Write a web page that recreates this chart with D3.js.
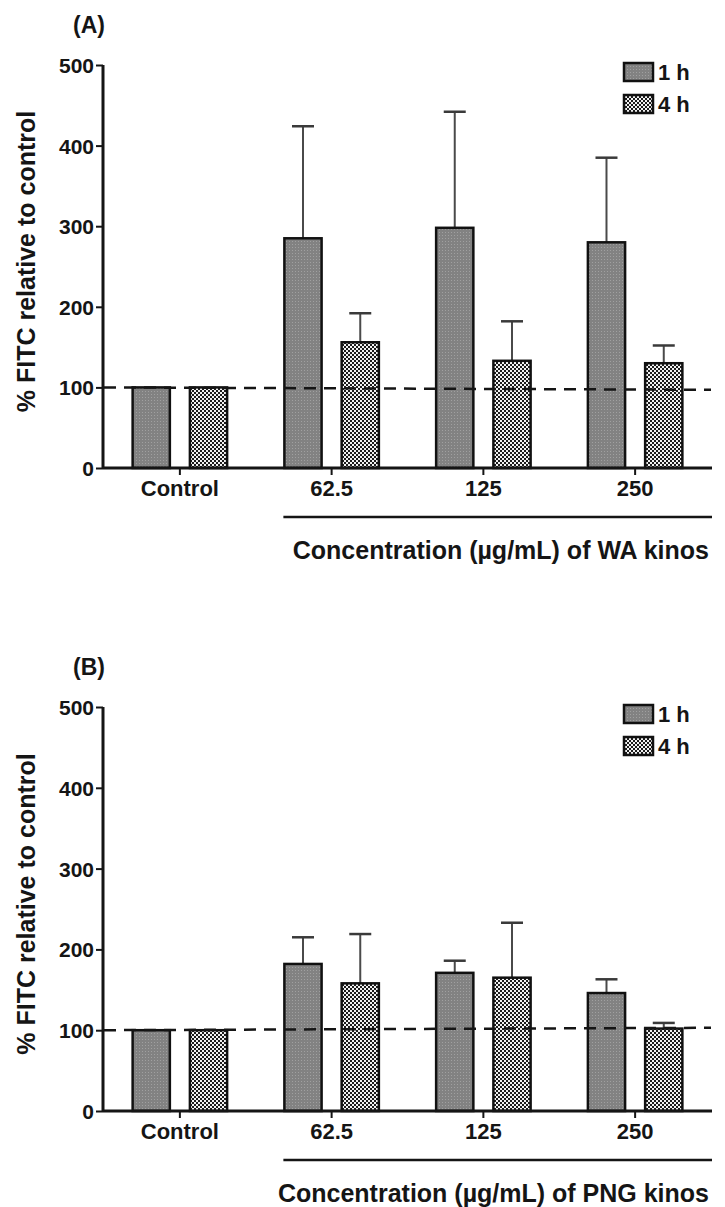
<!DOCTYPE html>
<html>
<head>
<meta charset="utf-8">
<script src="https://cdn.jsdelivr.net/npm/d3@7"></script>
<style>
  html, body { margin: 0; padding: 0; background: #fff; }
  svg text { font-family: "Liberation Sans", Arial, Helvetica, sans-serif; font-weight: bold; fill: #151515; }
</style>
</head>
<body>
<svg id="chart" width="725" height="1207"></svg>
<script>
// Exposure groups and time points
const categories = ["Control", "62.5", "125", "250"];
const series = ["1 h", "4 h"];
const yTicks = [0, 100, 200, 300, 400, 500];

// Panel A: WA kinos (mean and upper error, % FITC relative to control)
const waMean1h = [100, 285, 298, 280];
const waErr1h  = [0, 139, 144, 105];
const waMean4h = [100, 156, 133, 130];
const waErr4h  = [0, 36, 49, 22];
const waRefLine = [100, 97];

// Panel B: PNG kinos
const pngMean1h = [100, 182, 171, 146];
const pngErr1h  = [0, 33, 15, 17];
const pngMean4h = [100, 158, 165, 102];
const pngErr4h  = [0, 61, 68, 7];
const pngRefLine = [100, 103];

const svg = d3.select("#chart");

// Fill patterns: fine-grained grey for 1 h, black/white checker for 4 h
const defs = svg.append("defs");
const pGrey = defs.append("pattern").attr("id", "fill1h")
  .attr("patternUnits", "userSpaceOnUse").attr("width", 3).attr("height", 3);
pGrey.append("rect").attr("width", 3).attr("height", 3).attr("fill", "#828282");
pGrey.append("rect").attr("x", 1).attr("y", 1).attr("width", 1).attr("height", 1).attr("fill", "#a0a0a0");

const pCheck = defs.append("pattern").attr("id", "fill4h")
  .attr("patternUnits", "userSpaceOnUse").attr("width", 4).attr("height", 4);
pCheck.append("rect").attr("width", 4).attr("height", 4).attr("fill", "#1c1c1c");
pCheck.append("rect").attr("x", 0).attr("y", 0).attr("width", 2).attr("height", 2).attr("fill", "#f2f2f2");
pCheck.append("rect").attr("x", 2).attr("y", 2).attr("width", 2).attr("height", 2).attr("fill", "#f2f2f2");

const fills = { "1 h": "url(#fill1h)", "4 h": "url(#fill4h)" };

function drawPanel(opts) {
  const { top, bottom, label, agent, mean1h, err1h, mean4h, err4h, refLine } = opts;
  const left = 104, right = 711;

  const g = svg.append("g");

  const y = d3.scaleLinear().domain([0, 500]).range([bottom, top]);
  const x0 = d3.scaleBand().domain(categories).range([left, right]).paddingInner(0).paddingOuter(0);
  const x1 = d3.scaleBand().domain(series).range([0, x0.bandwidth()])
    .paddingInner(0.35).paddingOuter(0.5);

  const rows = [];
  categories.forEach((c, i) => {
    rows.push({ cat: c, s: "1 h", v: mean1h[i], e: err1h[i] });
    rows.push({ cat: c, s: "4 h", v: mean4h[i], e: err4h[i] });
  });

  // Error bars (upper only)
  const eb = g.append("g").selectAll("g").data(rows.filter(d => d.e > 0)).join("g");
  eb.append("line")
    .attr("x1", d => x0(d.cat) + x1(d.s) + x1.bandwidth() / 2)
    .attr("x2", d => x0(d.cat) + x1(d.s) + x1.bandwidth() / 2)
    .attr("y1", d => y(d.v)).attr("y2", d => y(d.v + d.e))
    .attr("stroke", "#4a4a4a").attr("stroke-width", 2);
  eb.append("line")
    .attr("x1", d => x0(d.cat) + x1(d.s) + x1.bandwidth() / 2 - 11)
    .attr("x2", d => x0(d.cat) + x1(d.s) + x1.bandwidth() / 2 + 11)
    .attr("y1", d => y(d.v + d.e)).attr("y2", d => y(d.v + d.e))
    .attr("stroke", "#3a3a3a").attr("stroke-width", 2.5);

  // Bars
  g.append("g").selectAll("rect").data(rows).join("rect")
    .attr("x", d => x0(d.cat) + x1(d.s))
    .attr("width", x1.bandwidth())
    .attr("y", d => y(d.v))
    .attr("height", d => y(0) - y(d.v))
    .attr("fill", d => fills[d.s])
    .attr("stroke", "#111").attr("stroke-width", 2.5);

  // Dashed control reference line
  g.append("line")
    .attr("x1", left).attr("x2", right)
    .attr("y1", y(refLine[0])).attr("y2", y(refLine[1]))
    .attr("stroke", "#151515").attr("stroke-width", 2.5)
    .attr("stroke-dasharray", "12,8");

  // Y axis
  const yAxis = g.append("g").attr("transform", `translate(${left - 1},0)`)
    .call(d3.axisLeft(y).tickValues(yTicks).tickSize(7).tickPadding(2).tickFormat(d3.format("d")));
  yAxis.select(".domain").attr("stroke", "#151515").attr("stroke-width", 3)
    .attr("d", `M0,${bottom}V${top}`);
  yAxis.selectAll(".tick line").attr("stroke", "#151515").attr("stroke-width", 2);
  yAxis.selectAll(".tick text").style("font-size", "21px").attr("dy", "0.36em");

  // X axis
  const xAxis = g.append("g").attr("transform", `translate(0,${bottom})`)
    .call(d3.axisBottom(x0).tickSize(7).tickPadding(6));
  xAxis.select(".domain").attr("stroke", "#151515").attr("stroke-width", 3)
    .attr("d", `M${left - 1},0H${right + 1}`);
  xAxis.selectAll(".tick line").attr("stroke", "#151515").attr("stroke-width", 2);
  xAxis.selectAll(".tick text").style("font-size", "22px").attr("dy", "0.7em");

  // Bracket under the treated groups
  const bx0 = x0(categories[1]) + x1(series[0]) - 1;
  g.append("line")
    .attr("x1", bx0).attr("x2", right + 1)
    .attr("y1", bottom + 49).attr("y2", bottom + 49)
    .attr("stroke", "#151515").attr("stroke-width", 2.5);

  g.append("text")
    .attr("x", right - 2).attr("y", bottom + 91)
    .attr("text-anchor", "end")
    .style("font-size", "25px")
    .text(`Concentration (\u00b5g/mL) of ${agent} kinos`);

  // Y axis title
  g.append("text")
    .attr("transform", `translate(35,${(top + bottom) / 2 - 5}) rotate(-90)`)
    .attr("text-anchor", "middle")
    .style("font-size", "25px")
    .text("% FITC relative to control");

  // Panel label
  g.append("text")
    .attr("x", 89).attr("y", top - 32)
    .attr("text-anchor", "middle")
    .style("font-size", "23px")
    .text(label);

  // Legend
  const lg = g.append("g").attr("transform", `translate(623,${top - 3})`);
  series.forEach((s, i) => {
    const row = lg.append("g").attr("transform", `translate(0,${i * 32})`);
    row.append("rect").attr("x", 1).attr("y", 1).attr("width", 29).attr("height", 18)
      .attr("fill", fills[s]).attr("stroke", "#111").attr("stroke-width", 2.5);
    row.append("text").attr("x", 35).attr("y", 10).attr("dy", "0.36em")
      .style("font-size", "22px").text(s);
  });
}

drawPanel({ top: 65, bottom: 468, label: "(A)", agent: "WA",
  mean1h: waMean1h, err1h: waErr1h, mean4h: waMean4h, err4h: waErr4h, refLine: waRefLine });

drawPanel({ top: 707, bottom: 1111, label: "(B)", agent: "PNG",
  mean1h: pngMean1h, err1h: pngErr1h, mean4h: pngMean4h, err4h: pngErr4h, refLine: pngRefLine });
</script>
</body>
</html>
